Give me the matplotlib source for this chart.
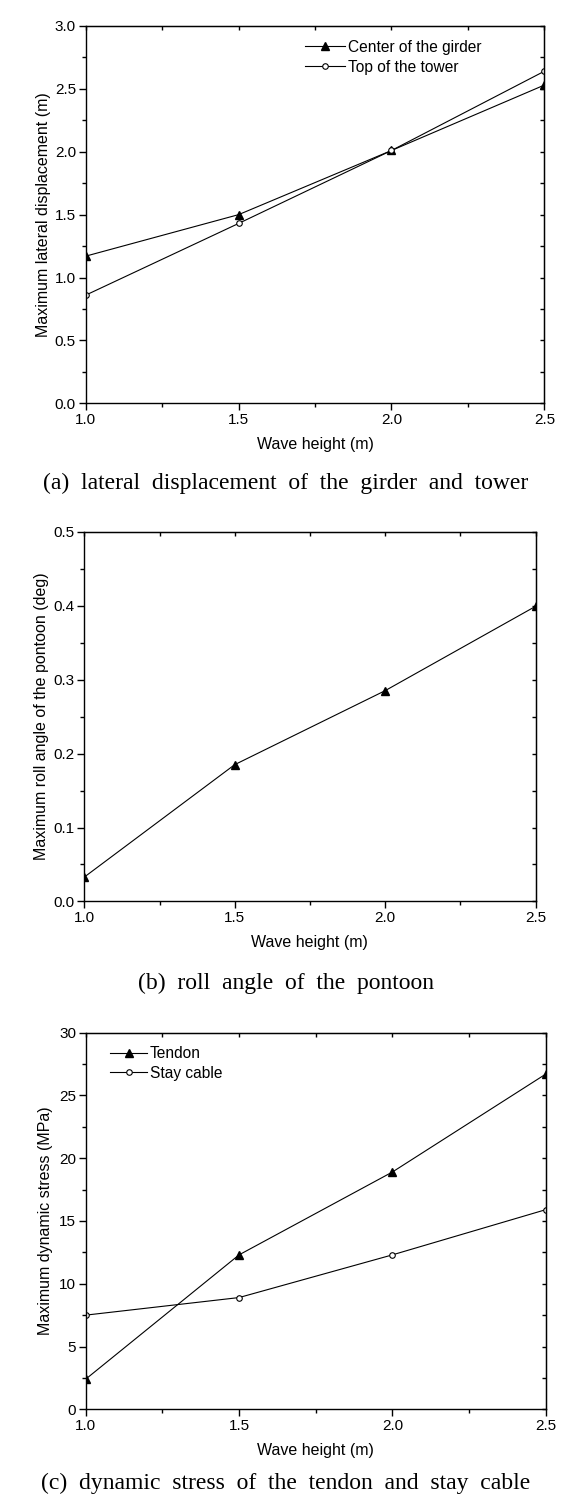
import matplotlib
matplotlib.use("Agg")
import matplotlib.pyplot as plt
from matplotlib.ticker import MultipleLocator, FormatStrFormatter, NullFormatter

# values
wave_height = [1.0, 1.5, 2.0, 2.5]

girder_disp = [1.17, 1.50, 2.01, 2.53]
tower_disp = [0.86, 1.43, 2.01, 2.64]

roll_angle = [0.033, 0.185, 0.285, 0.399]

tendon_stress = [2.4, 12.3, 18.9, 26.7]
cable_stress = [7.5, 8.9, 12.3, 15.9]

xlabel = "Wave height (m)"
ylabels = ["Maximum lateral displacement (m)",
           "Maximum roll angle of the pontoon (deg)",
           "Maximum dynamic stress (MPa)"]
captions = ["(a)  lateral  displacement  of  the  girder  and  tower",
            "(b)  roll  angle  of  the  pontoon",
            "(c)  dynamic  stress  of  the  tendon  and  stay  cable"]

plt.rcParams['font.family'] = ['Liberation Sans', 'DejaVu Sans']

fig = plt.figure(figsize=(5.76, 15.10), dpi=100)

ax_a = fig.add_axes([0.1488, 0.7329, 0.7962, 0.2499])
ax_b = fig.add_axes([0.1464, 0.4030, 0.7833, 0.2449])
ax_c = fig.add_axes([0.1488, 0.0667, 0.7986, 0.2494])


def style(ax, ymax, ystep, yfmt, ylab, lpad):
    ax.set_xlim(1.0, 2.5)
    ax.set_ylim(0, ymax)
    ax.xaxis.set_major_locator(MultipleLocator(0.5))
    ax.xaxis.set_minor_locator(MultipleLocator(0.25))
    ax.yaxis.set_major_locator(MultipleLocator(ystep))
    ax.yaxis.set_minor_locator(MultipleLocator(ystep / 2))
    ax.xaxis.set_major_formatter(FormatStrFormatter('%.1f'))
    ax.yaxis.set_major_formatter(FormatStrFormatter(yfmt))
    ax.tick_params(which='major', direction='out', length=5, width=1,
                   labelsize=11, pad=2, top=False, right=False)
    ax.tick_params(which='minor', direction='out', length=3, width=1,
                   top=False, right=False)
    for sp in ax.spines.values():
        sp.set_linewidth(1.0)
    # Origin style: top and right ticks point inward, no labels
    sx = ax.secondary_xaxis('top')
    sx.xaxis.set_major_locator(MultipleLocator(0.5))
    sx.xaxis.set_minor_locator(MultipleLocator(0.25))
    sx.xaxis.set_major_formatter(NullFormatter())
    sx.tick_params(which='both', direction='in', length=2.7, width=1)
    sy = ax.secondary_yaxis('right')
    sy.yaxis.set_major_locator(MultipleLocator(ystep))
    sy.yaxis.set_minor_locator(MultipleLocator(ystep / 2))
    sy.yaxis.set_major_formatter(NullFormatter())
    sy.tick_params(which='both', direction='in', length=2.7, width=1)
    ax.set_xlabel(xlabel, fontsize=11.5, labelpad=7)
    ax.set_ylabel(ylab, fontsize=11.5, labelpad=lpad)


# (a)
ax_a.plot(wave_height, girder_disp, color='black', lw=0.8, marker='^',
          ms=5.5, mfc='black', mec='black', label="Center of the girder")
ax_a.plot(wave_height, tower_disp, color='black', lw=0.8, marker='o',
          ms=4, mfc='white', mec='black', mew=0.8, label="Top of the tower")
style(ax_a, 3.0, 0.5, '%.1f', ylabels[0], 3)
ax_a.legend(loc='upper left', bbox_to_anchor=(0.478, 0.963), frameon=False,
            fontsize=11.2, handlelength=2.6, handletextpad=0.15,
            labelspacing=0.3, borderpad=0, borderaxespad=0)

# (b)
ax_b.plot(wave_height, roll_angle, color='black', lw=0.8, marker='^',
          ms=5.5, mfc='black', mec='black')
style(ax_b, 0.5, 0.1, '%.1f', ylabels[1], 3)

# (c)
ax_c.plot(wave_height, tendon_stress, color='black', lw=0.8, marker='^',
          ms=5.5, mfc='black', mec='black', label="Tendon")
ax_c.plot(wave_height, cable_stress, color='black', lw=0.8, marker='o',
          ms=4, mfc='white', mec='black', mew=0.8, label="Stay cable")
style(ax_c, 30, 5, '%d', ylabels[2], 4)
ax_c.legend(loc='upper left', bbox_to_anchor=(0.053, 0.964), frameon=False,
            fontsize=11.2, handlelength=2.4, handletextpad=0.15,
            labelspacing=0.3, borderpad=0, borderaxespad=0)

cap_y = [483, 983, 1483]
for txt, yy in zip(captions, cap_y):
    fig.text(286 / 576, 1 - yy / 1510, txt, ha='center', va='center',
             family='Liberation Serif', fontsize=17)

fig.savefig("out.png", dpi=100)
